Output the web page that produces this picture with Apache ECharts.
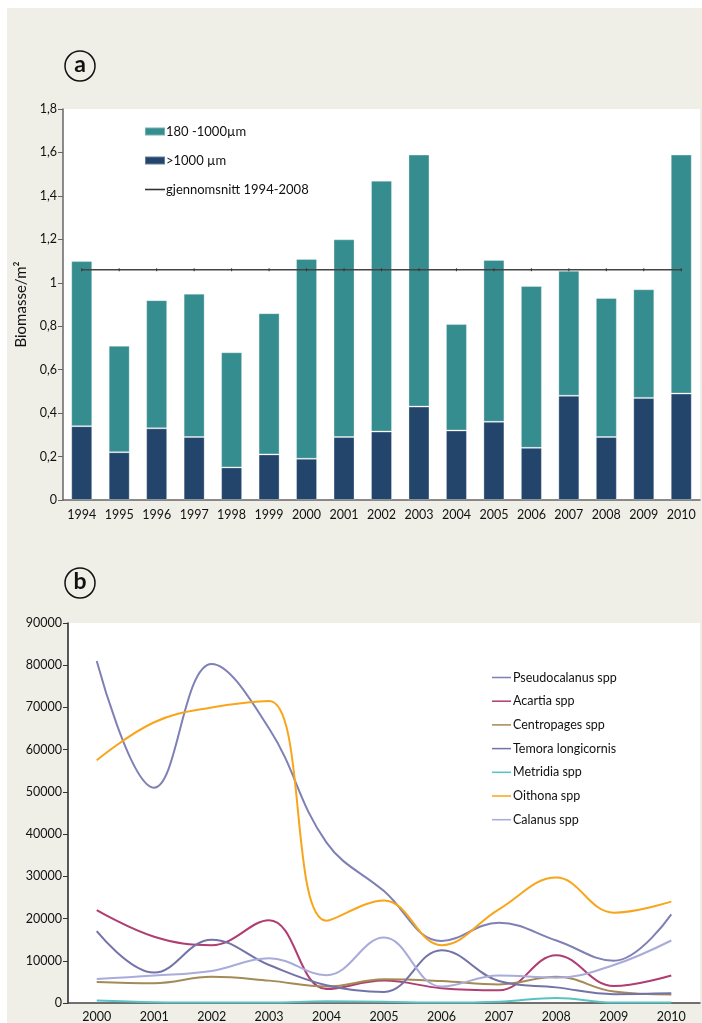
<!DOCTYPE html>
<html>
<head>
<meta charset="utf-8">
<script src="https://cdn.jsdelivr.net/npm/echarts@6/dist/echarts.min.js"></script>
<style>
  html, body { margin: 0; padding: 0; background: #fff; }
  #chart { width: 702px; height: 1023px; }
</style>
</head>
<body>
<div id="chart"></div>
<script>
// panel a – biomasse per år
const yearsA = ['1994', '1995', '1996', '1997', '1998', '1999', '2000', '2001', '2002',
  '2003', '2004', '2005', '2006', '2007', '2008', '2009', '2010']
const large = [0.34, 0.22, 0.33, 0.29, 0.15, 0.21, 0.19, 0.29, 0.315, 0.43, 0.32, 0.36, 0.24, 0.48, 0.29, 0.47, 0.49]
const small = [0.76, 0.49, 0.59, 0.66, 0.53, 0.65, 0.92, 0.91, 1.155, 1.16, 0.49, 0.745, 0.745, 0.575, 0.64, 0.50, 1.10]
const mean = [1.06, 1.06, 1.06, 1.06, 1.06, 1.06, 1.06, 1.06, 1.06, 1.06, 1.06, 1.06, 1.06, 1.06, 1.06, 1.06, 1.06]

// panel b – artsgrupper
const yearsB = ['2000', '2001', '2002', '2003', '2004', '2005', '2006', '2007', '2008', '2009', '2010']
const pseudocalanus = [81000, 51000, 80300, 65000, 38000, 26500, 14700, 19000, 14800, 10000, 21000]
const acartia = [22000, 15700, 13700, 19600, 3300, 5300, 3500, 3000, 11300, 4000, 6500]
const centropages = [5000, 4700, 6200, 5300, 3900, 5600, 5200, 4400, 6200, 2700, 2000]
const temora = [17000, 7200, 15000, 9000, 4200, 2600, 12500, 5200, 3700, 2100, 2300]
const metridia = [600, 200, 100, 100, 400, 300, 100, 300, 1200, 100, 100]
const oithona = [57500, 66500, 70000, 71500, 19500, 24300, 13700, 22200, 29700, 21400, 24000]
const calanus = [5700, 6500, 7600, 10600, 6600, 15500, 3900, 6500, 6000, 9000, 14800]

const FONT = 'Lato, "Open Sans", sans-serif'
const TEAL = '#368D8F'
const NAVY = '#23446B'
const LINE_ICON = 'path://M0,0H20V1.6H0Z'

const chart = echarts.init(document.getElementById('chart'))

const axisTxt = { color: '#111', fontSize: 12.5, fontFamily: FONT }

const lineSeries = (name, data, color) => ({
  name, type: 'line', xAxisIndex: 1, yAxisIndex: 1, data,
  smooth: 0.4, symbol: 'none',
  lineStyle: { color, width: 2 }, itemStyle: { color }
})

const namesB = ['Pseudocalanus spp', 'Acartia spp', 'Centropages spp', 'Temora longicornis',
  'Metridia spp', 'Oithona spp', 'Calanus spp']

chart.setOption({
  backgroundColor: '#fff',
  animation: false,
  textStyle: { fontFamily: FONT },
  graphic: [
    { type: 'rect', z: -10, shape: { x: 7, y: 8, width: 695, height: 1015 }, style: { fill: '#EFEFE8' } },
    { type: 'circle', shape: { cx: 80, cy: 66, r: 15 }, style: { fill: 'none', stroke: '#111', lineWidth: 1.5 } },
    { type: 'text', x: 80, y: 65, style: { text: 'a', fontSize: 23, fontWeight: 'bold', fontFamily: FONT, fill: '#111', align: 'center', verticalAlign: 'middle' } },
    { type: 'circle', shape: { cx: 80, cy: 583, r: 15 }, style: { fill: 'none', stroke: '#111', lineWidth: 1.5 } },
    { type: 'text', x: 80, y: 582, style: { text: 'b', fontSize: 23, fontWeight: 'bold', fontFamily: FONT, fill: '#111', align: 'center', verticalAlign: 'middle' } }
  ],
  legend: [
    {
      left: 139, top: 120, orient: 'vertical', itemGap: 16,
      itemWidth: 20, itemHeight: 8,
      textStyle: { color: '#111', fontSize: 13, fontFamily: FONT, padding: [0, 0, 0, -4] },
      data: [
        { name: '180 -1000µm', icon: 'rect' },
        { name: '>1000 µm', icon: 'rect' },
        { name: 'gjennomsnitt 1994-2008', icon: LINE_ICON }
      ]
    },
    {
      left: 487, top: 666, orient: 'vertical', itemGap: 10.7,
      itemWidth: 19, itemHeight: 13,
      textStyle: { color: '#111', fontSize: 12.5, fontFamily: FONT, padding: [0, 0, 0, -3] },
      data: namesB.map(name => ({ name, icon: LINE_ICON }))
    }
  ],
  grid: [
    { left: 63, top: 109, width: 637, height: 391, show: true, backgroundColor: '#fff', borderWidth: 0 },
    { left: 68, top: 623, width: 632, height: 380, show: true, backgroundColor: '#fff', borderWidth: 0 }
  ],
  xAxis: [
    {
      gridIndex: 0, type: 'category', data: yearsA,
      axisLine: { lineStyle: { color: '#666', width: 1.5 } },
      axisTick: { length: 5, lineStyle: { color: '#666' } },
      axisLabel: { ...axisTxt, fontSize: 12.5, margin: 8, interval: 0 }
    },
    {
      gridIndex: 1, type: 'category', data: yearsB,
      axisLine: { lineStyle: { color: '#444', width: 1.5 } },
      axisTick: { length: 5, lineStyle: { color: '#555' } },
      axisLabel: { ...axisTxt, margin: 7, interval: 0 }
    }
  ],
  yAxis: [
    {
      gridIndex: 0, type: 'value', min: 0, max: 1.8, interval: 0.2,
      name: 'Biomasse/m²', nameLocation: 'middle', nameGap: 27,
      nameTextStyle: { color: '#111', fontSize: 15, fontFamily: FONT },
      axisLine: { show: true, lineStyle: { color: '#666', width: 1.5 } },
      axisTick: { show: true, length: 5, lineStyle: { color: '#666' } },
      splitLine: { show: false },
      axisLabel: { ...axisTxt, margin: 6, formatter: v => String(Math.round(v * 10) / 10).replace('.', ',') }
    },
    {
      gridIndex: 1, type: 'value', min: 0, max: 90000, interval: 10000,
      axisLine: { show: true, lineStyle: { color: '#222', width: 1.5 } },
      axisTick: { show: true, length: 5, lineStyle: { color: '#333' } },
      splitLine: { show: false },
      axisLabel: { ...axisTxt, margin: 6, formatter: v => String(v) }
    }
  ],
  series: [
    {
      name: '>1000 µm', type: 'bar', stack: 'bio', data: large, barWidth: 21,
      itemStyle: { color: NAVY, borderColor: 'rgba(255,255,255,0.3)', borderWidth: 1 }
    },
    {
      name: '180 -1000µm', type: 'bar', stack: 'bio', data: small, barWidth: 21,
      itemStyle: { color: TEAL, borderColor: 'rgba(255,255,255,0.3)', borderWidth: 1 }
    },
    {
      name: 'gjennomsnitt 1994-2008', type: 'line', data: mean, z: 5,
      symbol: 'rect', symbolSize: [1, 3], showSymbol: true,
      lineStyle: { color: '#444', width: 1.5 }, itemStyle: { color: '#333' }
    },
    lineSeries('Pseudocalanus spp', pseudocalanus, '#7E80B6'),
    lineSeries('Acartia spp', acartia, '#B03D72'),
    lineSeries('Centropages spp', centropages, '#A38A57'),
    lineSeries('Temora longicornis', temora, '#7373A9'),
    lineSeries('Metridia spp', metridia, '#5BC2C4'),
    lineSeries('Oithona spp', oithona, '#F8A51B'),
    lineSeries('Calanus spp', calanus, '#A9ABDA')
  ]
})
</script>
</body>
</html>
